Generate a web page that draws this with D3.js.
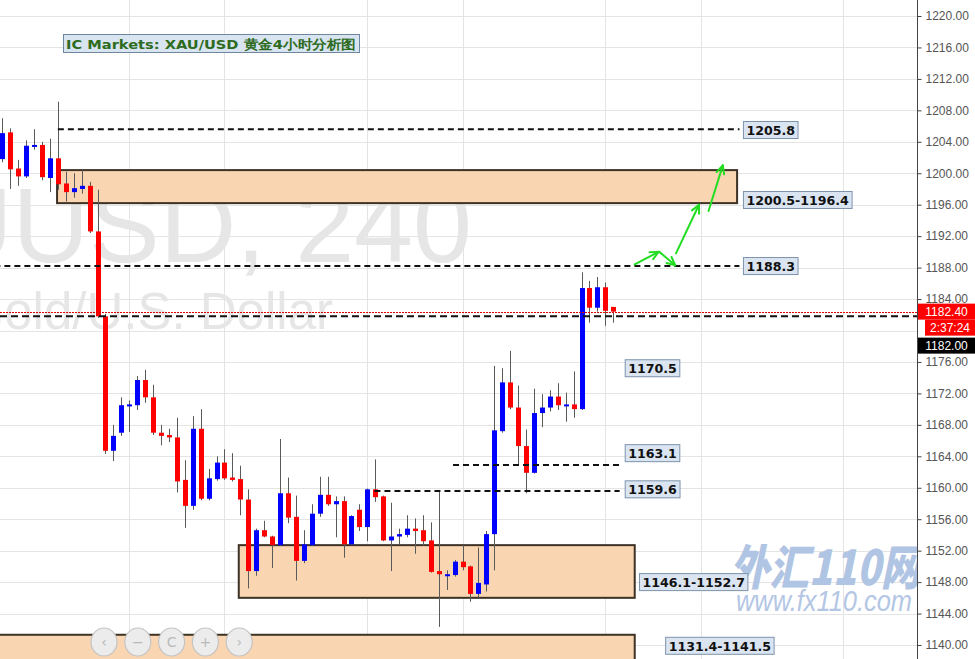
<!DOCTYPE html>
<html><head><meta charset="utf-8">
<script src="https://cdn.jsdelivr.net/npm/d3@7"></script>
<style>html,body{margin:0;padding:0;background:#fff;overflow:hidden}</style>
</head><body>
<svg id="c" width="975" height="659"></svg>
<script>
// ---- data ----
const opens  = [1201.8,1205.2,1200.6,1199.6,1203.4,1203.6,1199.4,1201.9,1198.7,1197.6,1198.0,1198.4,1192.6,1181.8,1164.7,1167.0,1170.4,1170.5,1173.7,1171.5,1167.0,1166.7,1166.4,1161.0,1157.7,1167.5,1158.6,1161.1,1163.2,1161.3,1161.1,1158.5,1149.4,1154.6,1153.8,1152.7,1159.3,1156.3,1150.7,1152.7,1156.7,1159.1,1157.9,1158.3,1152.8,1157.2,1155.0,1159.8,1158.9,1153.3,1153.8,1154.0,1154.8,1154.6,1153.3,1149.4,1148.9,1148.9,1150.6,1150.0,1146.5,1147.7,1154.1,1167.2,1173.4,1170.2,1165.3,1161.9,1169.5,1170.2,1171.6,1170.4,1170.6,1170.0,1185.4,1182.9,1185.5,1183.0];
const highs  = [1207.0,1205.7,1201.7,1204.2,1205.6,1204.0,1204.4,1209.1,1200.2,1200.0,1200.4,1198.9,1197.9,1182.1,1168.0,1171.5,1171.1,1174.2,1175.0,1173.1,1168.0,1167.5,1168.9,1163.5,1169.1,1170.0,1162.4,1164.0,1164.9,1164.4,1162.8,1159.8,1154.8,1155.8,1153.9,1166.2,1161.3,1159.0,1154.6,1157.9,1161.4,1161.4,1158.9,1158.9,1156.5,1157.9,1159.9,1163.6,1159.0,1158.1,1154.8,1156.5,1156.1,1156.5,1155.6,1159.6,1149.5,1150.8,1152.7,1150.1,1152.4,1154.5,1175.5,1175.2,1177.4,1173.0,1167.4,1172.6,1171.9,1172.4,1173.3,1172.1,1174.8,1187.4,1186.3,1186.8,1186.1,1183.0];
const lows   = [1201.4,1198.0,1198.4,1199.4,1203.0,1199.1,1197.6,1197.9,1196.4,1196.9,1197.4,1192.4,1181.6,1164.3,1163.4,1166.6,1167.1,1169.9,1170.8,1166.7,1165.4,1165.8,1159.4,1154.9,1157.2,1158.4,1158.4,1160.9,1161.0,1160.8,1156.5,1147.2,1148.8,1153.7,1149.8,1152.6,1155.5,1148.2,1150.4,1152.6,1156.3,1157.7,1153.7,1151.1,1152.7,1154.5,1153.2,1158.2,1153.2,1149.4,1152.8,1153.7,1151.6,1152.6,1149.2,1142.3,1147.0,1148.7,1149.5,1145.5,1145.9,1146.8,1149.5,1167.0,1170.0,1162.9,1159.3,1161.8,1167.7,1169.7,1169.9,1168.4,1168.9,1169.9,1181.0,1182.4,1180.6,1181.0];
const closes = [1205.1,1200.5,1199.6,1203.5,1203.6,1199.5,1201.9,1198.6,1197.6,1198.1,1198.4,1192.6,1181.8,1164.7,1166.6,1170.5,1170.6,1173.7,1171.5,1167.0,1166.6,1166.4,1160.8,1157.7,1167.5,1158.6,1161.2,1163.2,1161.2,1161.0,1158.5,1149.4,1154.6,1153.8,1152.7,1159.3,1156.2,1150.7,1152.8,1156.7,1159.1,1157.9,1158.3,1152.8,1156.4,1155.0,1159.8,1158.8,1153.3,1153.8,1154.1,1154.8,1154.5,1153.2,1149.3,1149.0,1149.0,1150.6,1149.9,1146.5,1147.9,1154.1,1167.3,1173.4,1170.2,1165.3,1161.9,1169.5,1170.2,1171.6,1170.5,1170.6,1170.0,1185.4,1182.9,1185.5,1182.5,1182.4];

const tickValues = [1220,1216,1212,1208,1204,1200,1196,1192,1188,1184,1176,1172,1168,1164,1160,1156,1152,1148,1144,1140];
const gridPrices = [1220,1216,1212,1208,1204,1200,1196,1192,1188,1184,1180,1176,1172,1168,1164,1160,1156,1152,1148,1144,1140];
const vGridIdx = [16,28,46,58,76,88,106];

// dashed support/resistance levels
const levelPrice = [1205.6, 1188.2, 1162.9, 1159.6];
const levelFrom  = [7.0, -1, 56.8, 46.9];
const levelTo    = [92.9, 92.9, 77.8, 77.8];
const markPrice  = 1181.8;   // black dashed line (1182.00)
const lastPrice  = 1182.4;   // red dotted line

// zones
const zoneTop    = [1200.4, 1152.7, 1141.3];
const zoneBottom = [1196.2, 1146.0, 1120];
const zoneFrom   = [6.9, 29.8, -1];
const zoneTo     = [92.6, 79.7, 79.7];

// text labels
const labelText  = ["1205.8","1200.5-1196.4","1188.3","1170.5","1163.1","1159.6","1146.1-1152.7","1131.4-1141.5"];
const labelIdx   = [93.4, 93.4, 93.4, 78.5, 78.5, 78.5, 80.3, 83.6];
const labelPrice = [1205.5, 1196.6, 1188.2, 1175.2, 1164.4, 1159.8, 1148.0, 1139.9];

// green projection arrows [idx1, price1, idx2, price2]
const arrows = [[79.7,1188.4,82.7,1190.0],[82.8,1190.0,84.8,1188.3],[84.9,1189.8,87.8,1196.0],[89.0,1195.2,90.8,1201.0]];

const title = "IC Markets: XAU/USD 黄金4小时分析图";

// ---- drawing ----
const W = 975, H = 659, axisX = 917;
const svg = d3.select("#c");
const x = d3.scaleLinear().domain([0, 77]).range([2.3, 613.3]);
const y = d3.scaleLinear().domain([1140, 1220]).range([645, 16]);

const defs = svg.append("defs");
defs.append("clipPath").attr("id","plot").append("rect").attr("x",0).attr("y",0).attr("width",axisX).attr("height",H);
const plot = svg.append("g").attr("clip-path","url(#plot)");

// grid
plot.append("g").selectAll("line").data(gridPrices).join("line")
  .attr("x1",0).attr("x2",axisX).attr("y1",d=>Math.round(y(d))+0.5).attr("y2",d=>Math.round(y(d))+0.5)
  .attr("stroke","#e4e4e4").attr("stroke-width",1);
plot.append("g").selectAll("line").data(vGridIdx).join("line")
  .attr("x1",d=>Math.round(x(d))+0.5).attr("x2",d=>Math.round(x(d))+0.5).attr("y1",0).attr("y2",H)
  .attr("stroke","#e4e4e4").attr("stroke-width",1);

// watermark symbol
plot.append("text").attr("x",472).attr("y",262).attr("text-anchor","end")
  .attr("font-family","Liberation Sans, Arial, sans-serif").attr("font-size",106)
  .attr("fill","#e6e6e6").text("XAUUSD, 240");
plot.append("text").attr("x",333).attr("y",329).attr("text-anchor","end")
  .attr("font-family","Liberation Sans, Arial, sans-serif").attr("font-size",51)
  .attr("fill","#e6e6e6").text("Gold/U.S. Dollar");

// fx110 watermark
plot.append("text").attr("x",730).attr("y",585)
  .attr("font-family","Noto Sans CJK SC, sans-serif").attr("font-weight","900").attr("font-style","italic")
  .attr("font-size",48).attr("fill","#b0c4e3").attr("textLength",190).attr("lengthAdjust","spacingAndGlyphs")
  .text("外汇110网");
plot.append("text").attr("x",736).attr("y",611)
  .attr("font-family","Liberation Sans, Arial, sans-serif").attr("font-style","italic")
  .attr("font-size",30).attr("fill","#b3c6e4").attr("textLength",176).attr("lengthAdjust","spacingAndGlyphs")
  .text("www.fx110.com");

// zones
const zones = zoneTop.map((t,i)=>({t, b:zoneBottom[i], f:zoneFrom[i], e:zoneTo[i]}));
plot.append("g").selectAll("rect").data(zones).join("rect")
  .attr("x",d=>x(d.f)).attr("width",d=>x(d.e)-x(d.f))
  .attr("y",d=>y(d.t)).attr("height",d=>y(d.b)-y(d.t))
  .attr("fill","#f9d5b1").attr("stroke","#3d3226").attr("stroke-width",2);

// candles
const cd = opens.map((o,i)=>({i,o,h:highs[i],l:lows[i],c:closes[i]}));
const cg = plot.append("g");
cg.selectAll("line").data(cd).join("line")
  .attr("x1",d=>Math.round(x(d.i))+0.5).attr("x2",d=>Math.round(x(d.i))+0.5)
  .attr("y1",d=>y(d.h)).attr("y2",d=>y(d.l)).attr("stroke","#5a5a5a").attr("stroke-width",1);
cg.selectAll("rect").data(cd).join("rect")
  .attr("x",d=>Math.round(x(d.i))-2).attr("width",5)
  .attr("y",d=>y(Math.max(d.o,d.c)))
  .attr("height",d=>Math.max(2, Math.abs(y(d.o)-y(d.c))))
  .attr("fill",d=>d.c>d.o?"#0000ff":"#ff0000");

// dashed levels
const lv = levelPrice.map((p,i)=>({p,f:levelFrom[i],e:levelTo[i]}));
plot.append("g").selectAll("line").data(lv).join("line")
  .attr("x1",d=>x(d.f)).attr("x2",d=>x(d.e)).attr("y1",d=>y(d.p)).attr("y2",d=>y(d.p))
  .attr("stroke","#111").attr("stroke-width",2).attr("stroke-dasharray","6,4");
plot.append("line").attr("x1",0).attr("x2",axisX).attr("y1",y(markPrice)).attr("y2",y(markPrice))
  .attr("stroke","#111").attr("stroke-width",2).attr("stroke-dasharray","7,4");
plot.append("line").attr("x1",0).attr("x2",axisX).attr("y1",Math.round(y(lastPrice))+0.5).attr("y2",Math.round(y(lastPrice))+0.5)
  .attr("stroke","#e00000").attr("stroke-width",1).attr("stroke-dasharray","2,1");

// arrows
const ag = plot.append("g").attr("stroke","#22dd22").attr("stroke-width",2).attr("fill","none").attr("stroke-linecap","round");
arrows.forEach(a=>{
  const x1=x(a[0]), y1=y(a[1]), x2=x(a[2]), y2=y(a[3]);
  ag.append("line").attr("x1",x1).attr("y1",y1).attr("x2",x2).attr("y2",y2);
  const ang = Math.atan2(y2-y1, x2-x1), L=9, sp=0.45;
  [ang+Math.PI-sp, ang+Math.PI+sp].forEach(t=>{
    ag.append("line").attr("x1",x2).attr("y1",y2).attr("x2",x2+L*Math.cos(t)).attr("y2",y2+L*Math.sin(t));
  });
});

// labels
const lg = plot.append("g");
labelText.forEach((t,i)=>{
  const g = lg.append("g");
  const tx = g.append("text").attr("x",x(labelIdx[i])+3).attr("y",y(labelPrice[i])+5)
    .attr("font-family","DejaVu Sans, Verdana, sans-serif").attr("font-weight","bold").attr("font-size",12.6)
    .attr("fill","#111").text(t);
  const bb = tx.node().getBBox();
  g.insert("rect","text").attr("x",bb.x-3).attr("y",y(labelPrice[i])-8.5).attr("width",bb.width+6).attr("height",17)
    .attr("fill","#dbe5f2").attr("stroke","#7d93ab").attr("stroke-width",1);
});

// title box
const tg = svg.append("g");
const tt = tg.append("text").attr("x",66).attr("y",48.5)
  .attr("font-family","DejaVu Sans, Verdana, sans-serif").attr("font-weight","bold").attr("font-size",13)
  .attr("fill","#2e6b1e").attr("textLength",290).attr("lengthAdjust","spacingAndGlyphs").text(title);
tg.insert("rect","text").attr("x",63.5).attr("y",34.5).attr("width",296).attr("height",18)
  .attr("fill","#d8e4f0").attr("stroke","#6e86a0").attr("stroke-width",1);

// nav buttons
const navG = svg.append("g");
const navGlyph = ["‹","−","C","+","›"];
navGlyph.forEach((g,i)=>{
  const cx = 104 + i*33.8, cy = 642;
  navG.append("ellipse").attr("cx",cx).attr("cy",cy).attr("rx",13).attr("ry",14)
    .attr("fill","#ececec").attr("stroke","#c4c4c4").attr("stroke-width",1.2);
  navG.append("text").attr("x",cx).attr("y",cy+5).attr("text-anchor","middle")
    .attr("font-family","DejaVu Sans, sans-serif").attr("font-size",14).attr("fill","#b9b9b9").text(g);
});

// right axis
const axis = d3.axisRight(y).tickValues(tickValues).tickFormat(d3.format(".2f")).tickSize(4).tickPadding(4);
const axG = svg.append("g").attr("transform",`translate(${axisX+0.5},0)`).call(axis);
axG.select(".domain").attr("d",`M0,0V${H}`).attr("stroke","#444");
axG.selectAll(".tick line").attr("stroke","#444");
axG.selectAll(".tick text").attr("font-family","Liberation Sans, Arial, sans-serif").attr("font-size",12).attr("fill","#555");

// price boxes
function priceBox(yTop, txt, fill, x0){
  svg.append("rect").attr("x",x0).attr("y",yTop).attr("width",W-x0).attr("height",16).attr("fill",fill);
  svg.append("text").attr("x",x0+ (W-x0)/2).attr("y",yTop+12.5).attr("text-anchor","middle")
    .attr("font-family","Liberation Sans, Arial, sans-serif").attr("font-size",12).attr("fill","#fff").text(txt);
}
priceBox(y(lastPrice)-8, d3.format(".2f")(lastPrice), "#ff0000", axisX+1);
priceBox(y(lastPrice)+8, "2:37:24", "#ff0000", axisX+8);
priceBox(y(lastPrice)+26, "1182.00", "#000000", axisX+1);
</script>
</body></html>
